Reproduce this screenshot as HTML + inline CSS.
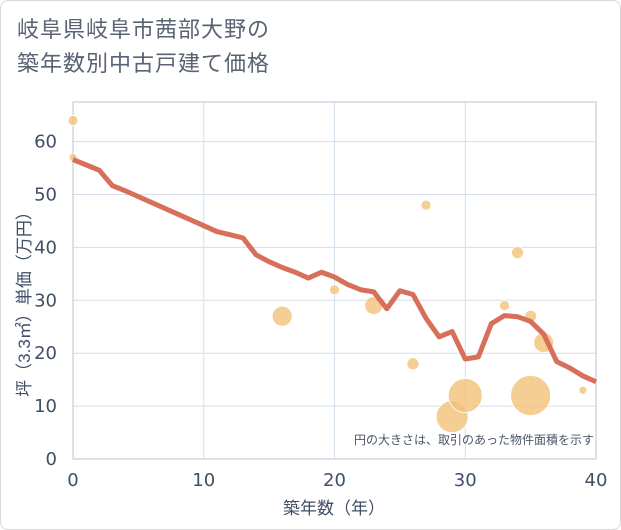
<!DOCTYPE html>
<html><head><meta charset="utf-8"><style>
body{margin:0;background:#fff;}
#c{position:relative;width:619px;height:528px;border:1px solid #d8d8d8;border-radius:8px;overflow:hidden;font-family:"Liberation Sans","Noto Sans CJK JP",sans-serif;}
.t{position:absolute;left:16px;color:#5a6373;font-size:22px;line-height:34px;letter-spacing:1px}
</style></head><body>
<div id="c">
<div class="t" style="top:12px">岐阜県岐阜市茜部大野の<br>築年数別中古戸建て価格</div>
<svg id="s" width="621" height="530" style="position:absolute;left:-1px;top:-1px"></svg>
</div>
<script>
const lineYears=[0,1,2,3,4,5,6,7,8,9,10,11,12,13,14,15,16,17,18,19,20,21,22,23,24,25,26,27,28,29,30,31,32,33,34,35,36,37,38,39,40];
const lineValues=[56.6,55.6,54.6,51.7,50.7,49.6,48.5,47.4,46.3,45.2,44.1,43.0,42.4,41.8,38.6,37.3,36.2,35.3,34.2,35.3,34.4,33.0,32.0,31.6,28.4,31.8,31.1,26.6,23.1,24.1,18.9,19.3,25.6,27.1,26.9,26.0,23.6,18.4,17.2,15.7,14.6];
const bubbleYears=[0,0,16,20,23,26,27,29,30,33,34,35,35,36,39];
const bubbleValues=[64,57,27,32,29,18,48,8,12,29,39,27,12,22,13];
const bubbleSizes=[5,4,10,5,9,6,5,16,17,5,6,6,20,10,4];
const xTicks=[0,10,20,30,40];
const yTicks=[0,10,20,30,40,50,60];
const NS="http://www.w3.org/2000/svg";
const s=document.getElementById('s');
const X=v=>73+v*(596-73)/40, Y=v=>459-v*5.29;
function mk(t,a,txt){const e=document.createElementNS(NS,t);for(const k in a)e.setAttribute(k,a[k]);if(txt!=null)e.textContent=txt;s.appendChild(e);return e;}
for(const t of xTicks){const g=mk('line',{x1:X(t),x2:X(t),y1:102,y2:459,stroke:'#d5dfea','stroke-width':1});


const l=mk('text',{x:X(t),y:486,'text-anchor':'middle','font-size':18,fill:'#3f4f66','font-family':'DejaVu Sans, sans-serif'},t);

}
for(const t of yTicks){const g=mk('line',{x1:73,x2:596,y1:Y(t),y2:Y(t),stroke:'#d5dfea','stroke-width':1});


const l=mk('text',{x:57,y:Y(t)+6,'text-anchor':'end','font-size':18,fill:'#3f4f66','font-family':'DejaVu Sans, sans-serif'},t);

}
const fr=mk('rect',{x:73,y:102,width:523,height:357,fill:'none',stroke:'#b8c4d2','stroke-width':1});


bubbleYears.forEach((yr,i)=>{const c=mk('circle',{cx:X(yr),cy:Y(bubbleValues[i]),r:bubbleSizes[i],fill:'#f3c279','fill-opacity':0.8,stroke:'#fff','stroke-width':0.8});

});
const p=mk('polyline',{points:lineYears.map((y,i)=>X(y)+','+Y(lineValues[i])).join(' '),fill:'none',stroke:'#d76f5a','stroke-width':5,'stroke-linejoin':'round'});


const n=mk('text',{x:594,y:444,'text-anchor':'end','font-size':12,fill:'#4a5568'},'円の大きさは、取引のあった物件面積を示す');


const xt=mk('text',{x:334,y:514,'text-anchor':'middle','font-size':17,fill:'#3f4f66'},'築年数（年）');


const yt=mk('text',{x:0,y:0,'text-anchor':'middle','font-size':17,fill:'#3f4f66',transform:'translate(30,300) rotate(-90)'},'坪（3.3㎡）単価（万円）');


</script>
</body></html>
